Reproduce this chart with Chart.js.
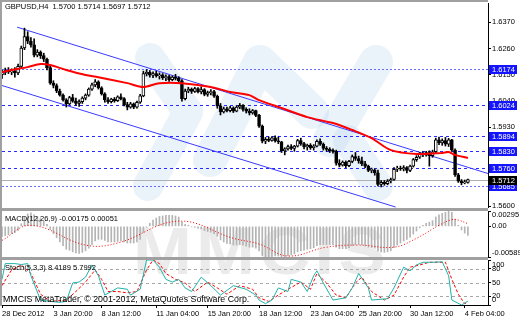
<!DOCTYPE html>
<html>
<head>
<meta charset="utf-8">
<script src="https://cdn.jsdelivr.net/npm/chart.js@4.4.1/dist/chart.umd.min.js"></script>
<style>
html,body{margin:0;padding:0;background:#fff;}
#wrap{position:relative;width:520px;height:320px;overflow:hidden;background:#fff;}
#wrap canvas{position:absolute;left:0;}
.t{position:absolute;font-family:"Liberation Sans",Arial,sans-serif;font-size:7.5px;line-height:8px;color:#000;white-space:pre;}
#wm{position:absolute;left:133px;top:218px;font-family:"Liberation Sans",Arial,sans-serif;font-weight:bold;font-size:66px;line-height:66px;color:#ebebeb;letter-spacing:4px;transform-origin:0 0;transform:scaleX(1.07);}
.sep{position:absolute;left:0;width:488px;height:3px;background:#a0a0a0;}
</style>
</head>
<body>
<div id="wrap">
  <div id="wm">MMCIS</div>
  <canvas id="cMain" width="520" height="208" style="top:0px"></canvas>
  <canvas id="cMacd" width="520" height="50" style="top:208px"></canvas>
  <canvas id="cSto" width="520" height="63" style="top:257px"></canvas>
  <div class="sep" style="top:208px"></div>
  <div class="sep" style="top:257px"></div>
  <div style="position:absolute;left:0;top:0;width:2px;height:306px;background:#a0a0a0"></div>
  <div style="position:absolute;left:0;top:0;width:488px;height:2px;background:#a0a0a0"></div>
  <div class="t" style="left:5px;top:3px">GBPUSD,H4  1.5700 1.5714 1.5697 1.5712</div>
  <div class="t" style="left:5px;top:215px">MACD(12,26,9) -0.00175 0.00051</div>
  <div class="t" style="left:5px;top:264px">Stoch(5,3,3) 8.4189 5.7992</div>
  <div class="t" style="left:3px;top:294px;font-size:8.8px;line-height:10px">MMCIS MetaTrader, © 2001-2012, MetaQuotes Software Corp.</div>
</div>
<script>
// ---------- DATA ----------
const candleOpen = [
1.6150,1.6160,1.6168,1.6162,1.6165,1.6158,1.6185,1.6262,1.6310,1.6290,
1.6275,1.6232,1.6245,1.6230,1.6215,1.6180,1.6115,1.6105,1.6082,1.6065,
1.6045,1.6028,1.6055,1.6040,1.6030,1.6038,1.6052,1.6065,1.6090,1.6108,
1.6120,1.6095,1.6070,1.6045,1.6038,1.6048,1.6042,1.6058,1.6050,1.6025,
1.6015,1.6028,1.6015,1.6035,1.6062,1.6155,1.6160,1.6148,1.6155,1.6145,
1.6150,1.6138,1.6142,1.6130,1.6140,1.6135,1.6125,1.6050,1.6082,1.6090,
1.6080,1.6092,1.6078,1.6088,1.6068,1.6075,1.6080,1.6060,1.6020,1.5995,
1.6008,1.6000,1.6012,1.5998,1.6015,1.6022,1.6005,1.5998,1.5990,1.6000,
1.5980,1.5935,1.5872,1.5880,1.5876,1.5886,1.5874,1.5870,1.5832,1.5840,
1.5850,1.5842,1.5852,1.5875,1.5862,1.5848,1.5855,1.5845,1.5852,1.5872,
1.5860,1.5842,1.5838,1.5832,1.5830,1.5780,1.5772,1.5785,1.5770,1.5788,
1.5808,1.5800,1.5790,1.5778,1.5768,1.5750,1.5752,1.5740,1.5692,1.5700,
1.5695,1.5706,1.5712,1.5755,1.5760,1.5756,1.5762,1.5750,1.5768,1.5795,
1.5805,1.5818,1.5815,1.5825,1.5812,1.5828,1.5878,1.5865,1.5875,1.5860,
1.5878,1.5835,1.5732,1.5705,1.5698,1.5700];
const candleHigh = [
1.6170,1.6178,1.6180,1.6175,1.6180,1.6195,1.6270,1.6345,1.6330,1.6305,
1.6300,1.6255,1.6250,1.6240,1.6220,1.6190,1.6125,1.6112,1.6090,1.6070,
1.6050,1.6060,1.6068,1.6052,1.6045,1.6058,1.6070,1.6095,1.6115,1.6130,
1.6125,1.6100,1.6075,1.6055,1.6052,1.6055,1.6062,1.6070,1.6055,1.6035,
1.6035,1.6032,1.6040,1.6068,1.6165,1.6172,1.6168,1.6162,1.6165,1.6158,
1.6155,1.6150,1.6148,1.6145,1.6152,1.6142,1.6130,1.6090,1.6098,1.6095,
1.6098,1.6096,1.6100,1.6092,1.6082,1.6088,1.6085,1.6065,1.6030,1.6015,
1.6015,1.6018,1.6016,1.6020,1.6030,1.6025,1.6012,1.6008,1.6005,1.6002,
1.5985,1.5940,1.5888,1.5890,1.5892,1.5895,1.5890,1.5872,1.5845,1.5856,
1.5858,1.5855,1.5880,1.5885,1.5868,1.5860,1.5862,1.5858,1.5878,1.5882,
1.5865,1.5850,1.5845,1.5840,1.5835,1.5795,1.5790,1.5790,1.5792,1.5815,
1.5825,1.5810,1.5806,1.5788,1.5772,1.5760,1.5756,1.5752,1.5708,1.5708,
1.5712,1.5718,1.5762,1.5768,1.5768,1.5770,1.5766,1.5772,1.5800,1.5812,
1.5825,1.5828,1.5830,1.5832,1.5835,1.5885,1.5890,1.5882,1.5888,1.5884,
1.5880,1.5840,1.5738,1.5712,1.5710,1.5714];
const candleLow = [
1.6135,1.6150,1.6155,1.6150,1.6140,1.6150,1.6180,1.6255,1.6280,1.6265,
1.6225,1.6225,1.6218,1.6205,1.6170,1.6110,1.6095,1.6075,1.6060,1.6040,
1.6015,1.6025,1.6035,1.6022,1.6018,1.6030,1.6045,1.6060,1.6085,1.6100,
1.6090,1.6065,1.6035,1.6030,1.6032,1.6035,1.6038,1.6045,1.6020,1.6003,
1.6010,1.6008,1.6010,1.6030,1.6058,1.6145,1.6140,1.6138,1.6140,1.6132,
1.6130,1.6125,1.6122,1.6125,1.6128,1.6118,1.6040,1.6045,1.6075,1.6072,
1.6076,1.6074,1.6070,1.6062,1.6060,1.6066,1.6055,1.6010,1.5982,1.5990,
1.5995,1.5995,1.5992,1.5995,1.6008,1.5998,1.5990,1.5982,1.5985,1.5975,
1.5930,1.5865,1.5862,1.5870,1.5872,1.5868,1.5862,1.5825,1.5815,1.5835,
1.5836,1.5830,1.5848,1.5855,1.5840,1.5835,1.5838,1.5835,1.5848,1.5855,
1.5835,1.5830,1.5825,1.5822,1.5772,1.5765,1.5768,1.5762,1.5766,1.5782,
1.5792,1.5780,1.5770,1.5762,1.5745,1.5740,1.5730,1.5685,1.5681,1.5688,
1.5690,1.5698,1.5708,1.5745,1.5750,1.5748,1.5740,1.5745,1.5764,1.5788,
1.5800,1.5808,1.5810,1.5768,1.5805,1.5822,1.5858,1.5855,1.5852,1.5850,
1.5830,1.5725,1.5700,1.5690,1.5694,1.5697];
const candleClose = [
1.6160,1.6168,1.6162,1.6165,1.6158,1.6185,1.6262,1.6310,1.6290,1.6275,
1.6232,1.6245,1.6230,1.6215,1.6180,1.6115,1.6105,1.6082,1.6065,1.6045,
1.6028,1.6055,1.6040,1.6030,1.6038,1.6052,1.6065,1.6090,1.6108,1.6120,
1.6095,1.6070,1.6045,1.6038,1.6048,1.6042,1.6058,1.6050,1.6025,1.6015,
1.6028,1.6015,1.6035,1.6062,1.6155,1.6160,1.6148,1.6155,1.6145,1.6150,
1.6138,1.6142,1.6130,1.6140,1.6135,1.6125,1.6050,1.6082,1.6090,1.6080,
1.6092,1.6078,1.6088,1.6068,1.6075,1.6080,1.6060,1.6020,1.5995,1.6008,
1.6000,1.6012,1.5998,1.6015,1.6022,1.6005,1.5998,1.5990,1.6000,1.5980,
1.5935,1.5872,1.5880,1.5876,1.5886,1.5874,1.5870,1.5832,1.5840,1.5850,
1.5842,1.5852,1.5875,1.5862,1.5848,1.5855,1.5845,1.5852,1.5872,1.5860,
1.5842,1.5838,1.5832,1.5830,1.5780,1.5772,1.5785,1.5770,1.5788,1.5808,
1.5800,1.5790,1.5778,1.5768,1.5750,1.5752,1.5740,1.5692,1.5700,1.5695,
1.5706,1.5712,1.5755,1.5760,1.5756,1.5762,1.5750,1.5768,1.5795,1.5805,
1.5818,1.5815,1.5825,1.5812,1.5828,1.5878,1.5865,1.5875,1.5860,1.5878,
1.5835,1.5732,1.5705,1.5698,1.5700,1.5712];

const maBars   = [0,3,8,12,15,20,26,30,39,44,49,56,65,71,77,80,87,95,103,109,115,121,129,137,139,141,145];
const maValues = [1.6161,1.6170,1.6182,1.6195,1.6191,1.6170,1.6149,1.6140,1.6115,1.6099,1.6115,1.6115,1.6099,1.6078,1.6065,1.6044,1.6011,1.5973,1.5948,1.5919,1.5885,1.5835,1.5819,1.5823,1.5827,1.5815,1.5802];

const channelUpperBars = [4.7, 151.25];
const channelUpperVals = [1.6349, 1.5737];
const channelLowerBars = [0, 122.5];
const channelLowerVals = [1.6105, 1.5597];

const levelValues = [1.6174, 1.6024, 1.5894, 1.5830, 1.5760, 1.5685];
const levelFaint  = [true, false, false, false, false, true];
const lastPrice = 1.5712;
const priceTicks = [1.6370, 1.6260, 1.6150, 1.6040, 1.5930, 1.5820, 1.5710, 1.5600];

const macdMain = [
-0.0020,-0.0018,-0.0016,-0.0014,-0.0012,-0.0008,0.0005,0.0018,0.0024,0.0026,
0.0022,0.0019,0.0015,0.0010,0.0004,-0.0006,-0.0014,-0.0022,-0.0030,-0.0037,
-0.0044,-0.0046,-0.0049,-0.0051,-0.0052,-0.0050,-0.0047,-0.0042,-0.0035,-0.0028,
-0.0025,-0.0025,-0.0027,-0.0030,-0.0030,-0.0030,-0.0029,-0.0028,-0.0030,-0.0032,
-0.0032,-0.0032,-0.0030,-0.0025,-0.0012,-0.0002,0.0006,0.0012,0.0016,0.0019,
0.0020,0.0021,0.0021,0.0021,0.0020,0.0018,0.0008,0.0004,0.0002,-0.0001,
-0.0002,-0.0004,-0.0005,-0.0008,-0.0010,-0.0011,-0.0014,-0.0019,-0.0026,-0.0030,
-0.0033,-0.0034,-0.0036,-0.0036,-0.0035,-0.0036,-0.0038,-0.0040,-0.0040,-0.0042,
-0.0047,-0.0056,-0.0059,-0.0059,-0.0058,-0.0057,-0.0057,-0.0059,-0.0059,-0.0057,
-0.0055,-0.0053,-0.0049,-0.0047,-0.0046,-0.0044,-0.0043,-0.0041,-0.0037,-0.0035,
-0.0035,-0.0035,-0.0035,-0.0035,-0.0040,-0.0043,-0.0043,-0.0043,-0.0041,-0.0037,
-0.0035,-0.0035,-0.0036,-0.0038,-0.0040,-0.0041,-0.0042,-0.0047,-0.0049,-0.0050,
-0.0049,-0.0047,-0.0041,-0.0036,-0.0032,-0.0028,-0.0025,-0.0021,-0.0015,-0.0009,
-0.0003,0.0002,0.0006,0.0008,0.0011,0.0018,0.0022,0.0025,0.0027,0.0029,
0.0027,0.0014,0.0002,-0.0007,-0.0013,-0.00175];
const macdSignalBars = [0,9,26,36,55,72,80,89,101,111,122,129,136,140,142,145];
const macdSignalVals = [-0.0027,0.0002,-0.0036,-0.0032,0.0010,-0.0023,-0.0034,-0.0057,-0.0040,-0.0036,-0.0040,-0.0023,0.0002,0.0013,0.0012,0.00051];
const macdTicks = [0.00295, 0, -0.00589];
const macdTickLabels = ['0.00295', '0.00', '-0.00589'];

const stochKBars = [0,1,4,6,8,9,12,15,18,20,22,24,26,28,30,32,34,36,39,40,43,45,47,49,51,53,55,57,59,61,62,65,68,72,76,79,80,82,84,86,89,90,93,95,97,98,100,103,107,109,111,114,115,120,122,125,127,129,131,134,137,139,140,143,145];
const stochKVals = [57,92,92,90,92,65,11,8,6,8,49,51,62,89,65,22,30,38,35,22,35,100,100,84,57,51,57,38,30,51,62,43,22,43,35,22,11,3,11,38,30,57,51,30,65,76,49,11,16,38,70,38,11,14,38,84,76,89,95,95,96,65,11,0,8.4189];
const stochDBars = [0,3,6,9,12,15,20,23,26,29,31,33,36,39,42,45,47,49,51,54,57,60,64,67,70,74,78,80,83,86,89,93,96,98,101,104,107,110,112,115,119,122,125,127,130,133,138,140,142,144,145];
const stochDVals = [43,78,89,70,24,8,11,30,51,78,57,30,30,27,30,78,100,92,70,57,49,30,51,38,24,43,35,16,8,22,35,51,35,70,49,22,16,49,62,30,11,22,62,84,89,95,95,57,24,3,5.7992];
const stochTicks = [100, 80, 50, 20, 0];
const stochLevels = [80, 50, 20];

const xTickBars = [0,16,31,48,64,80,96,111,127,144];
const xTickLabels = ['28 Dec 2012','3 Jan 20:00','8 Jan 12:00','11 Jan 04:00','15 Jan 20:00','18 Jan 12:00','23 Jan 04:00','25 Jan 20:00','30 Jan 12:00','4 Feb 04:00'];

// ---------- SETUP ----------
const FONT = '"Liberation Sans", Arial, sans-serif';
Chart.defaults.font.family = FONT;
Chart.defaults.font.size = 7.5;
Chart.defaults.color = '#000';
const X_MAX = 151.25;
const AXIS_W = 32;
const barIdx = candleClose.map((_, i) => i);
const pairs = (xs, ys) => xs.map((x, i) => ({x: x, y: ys[i]}));

function xScale(display) {
  return {
    type: 'linear', min: 0, max: X_MAX, offset: false, display: display,
    grid: {display: false, offset: false}
  };
}
function yScale(min, max, ticks) {
  return {
    type: 'linear', position: 'right', min: min, max: max,
    afterBuildTicks: s => { s.ticks = ticks.map(v => ({value: v})); },
    afterFit: s => { s.width = AXIS_W; },
    ticks: {display: false},
    grid: {drawOnChartArea: false, drawTicks: true, tickLength: 3, color: '#000'},
    border: {display: true, color: '#000'}
  };
}
function yLabels(fmt, inset) {
  return function(chart) {
    const s = chart.scales.y, a = chart.chartArea, ctx = chart.ctx;
    ctx.save();
    ctx.font = '7.5px ' + FONT;
    ctx.fillStyle = '#000'; ctx.textBaseline = 'middle'; ctx.textAlign = 'left';
    s.ticks.forEach((t, k) => {
      let y = s.getPixelForValue(t.value);
      y = Math.min(Math.max(y, a.top + inset), a.bottom - inset);
      ctx.fillText(fmt(t.value, k), a.right + 4, y);
    });
    ctx.restore();
  };
}
const common = {
  responsive: false, animation: false, devicePixelRatio: 1,
  plugins: {legend: {display: false}, tooltip: {enabled: false}}
};

// ---------- MAIN ----------
const drawMainLabels = yLabels(v => v.toFixed(4), 0);
const mainDeco = {
  id: 'mainDeco',
  beforeDatasetsDraw(chart) {
    const {ctx, chartArea: a} = chart, y = chart.scales.y;
    ctx.save();
    // faint logo bands (background decoration)
    ctx.beginPath(); ctx.rect(a.left, a.top, a.right - a.left, a.bottom - a.top); ctx.clip();
    ctx.strokeStyle = 'rgba(185,212,238,0.3)';
    ctx.lineCap = 'round'; ctx.lineJoin = 'round'; ctx.lineWidth = 30;
    const band = pts => { ctx.beginPath(); ctx.moveTo(pts[0][0], pts[0][1]); pts.slice(1).forEach(p => ctx.lineTo(p[0], p[1])); ctx.stroke(); };
    band([[150,58],[188,112],[148,186]]);
    ctx.lineWidth = 34;
    band([[210,160],[260,62],[312,112]]);
    band([[376,62],[330,140]]);
    ctx.lineWidth = 30;
    band([[348,140],[378,186]]);
    ctx.restore();

    ctx.save();
    ctx.lineWidth = 1;
    levelValues.forEach((v, k) => {
      const py = Math.round(y.getPixelForValue(v)) + 0.5;
      ctx.strokeStyle = levelFaint[k] ? '#6a6aff' : '#2828ff';
      ctx.setLineDash(levelFaint[k] ? [2, 2] : [3, 3]);
      ctx.beginPath(); ctx.moveTo(a.left, py); ctx.lineTo(a.right, py); ctx.stroke();
    });
    ctx.setLineDash([]);
    const pc = Math.round(y.getPixelForValue(lastPrice)) + 0.5;
    ctx.strokeStyle = '#b0b0b0';
    ctx.beginPath(); ctx.moveTo(a.left, pc); ctx.lineTo(a.right, pc); ctx.stroke();
    ctx.restore();
  },
  afterDraw(chart) {
    drawMainLabels(chart);
    const {ctx, chartArea: a} = chart, y = chart.scales.y;
    ctx.save();
    ctx.font = '7.5px ' + FONT;
    ctx.textBaseline = 'middle'; ctx.textAlign = 'left';
    const box = (v, col) => {
      const py = Math.round(y.getPixelForValue(v));
      ctx.fillStyle = col;
      ctx.fillRect(a.right + 1, py - 4, 28, 9);
      ctx.fillStyle = '#fff';
      ctx.fillText(v.toFixed(4), a.right + 4, py + 0.5);
    };
    levelValues.forEach(v => box(v, '#1414ff'));
    box(lastPrice, '#000');
    ctx.restore();
  }
};
new Chart(document.getElementById('cMain'), {
  type: 'bar',
  data: {
    datasets: [
      {type: 'line', data: pairs(channelUpperBars, channelUpperVals), borderColor: '#3a3aff', borderWidth: 1, pointRadius: 0, order: 5},
      {type: 'line', data: pairs(channelLowerBars, channelLowerVals), borderColor: '#3a3aff', borderWidth: 1, pointRadius: 0, order: 5},
      {type: 'bar', data: barIdx.map(i => ({x: i, y: [candleLow[i], candleHigh[i]]})), backgroundColor: '#000', barThickness: 1, grouped: false, order: 3},
      {type: 'bar', data: barIdx.map(i => ({x: i, y: [candleOpen[i], candleClose[i]]})),
        backgroundColor: barIdx.map(i => candleClose[i] >= candleOpen[i] ? '#fff' : '#000'),
        borderColor: '#000', borderWidth: 1, borderSkipped: false, barThickness: 3, minBarLength: 1, grouped: false, order: 2},
      {type: 'line', data: pairs(maBars, maValues), borderColor: '#ff0000', borderWidth: 2, pointRadius: 0, tension: 0.3, order: 1}
    ]
  },
  options: Object.assign({}, common, {
    layout: {padding: {top: 3, left: 2, right: 0, bottom: 0}},
    scales: {x: xScale(false), y: yScale(1.5593, 1.6450, priceTicks)}
  }),
  plugins: [mainDeco]
});

// ---------- MACD ----------
const drawMacdLabels = yLabels((v, k) => macdTickLabels[k], 4);
new Chart(document.getElementById('cMacd'), {
  type: 'bar',
  data: {
    datasets: [
      {type: 'bar', data: barIdx.map(i => ({x: i, y: macdMain[i]})), backgroundColor: '#b4b4b4', barThickness: 1, grouped: false, order: 2},
      {type: 'line', data: pairs(macdSignalBars, macdSignalVals), borderColor: '#ff0000', borderWidth: 1, borderDash: [1, 2], pointRadius: 0, tension: 0.4, order: 1}
    ]
  },
  options: Object.assign({}, common, {
    layout: {padding: {top: 3, left: 2, right: 0, bottom: 1}},
    scales: {x: xScale(false), y: yScale(-0.00589, 0.00295, macdTicks)}
  }),
  plugins: [{id: 'macdLbl', afterDraw: drawMacdLabels}]
});

// ---------- STOCH ----------
const drawStoLabels = yLabels(v => String(v), 5);
const stoDeco = {
  id: 'stoDeco',
  beforeDatasetsDraw(chart) {
    const {ctx, chartArea: a} = chart, y = chart.scales.y;
    ctx.save();
    ctx.strokeStyle = '#a8a8a8'; ctx.lineWidth = 1; ctx.setLineDash([3, 3]);
    stochLevels.forEach(v => {
      const py = Math.round(y.getPixelForValue(v)) + 0.5;
      ctx.beginPath(); ctx.moveTo(a.left, py); ctx.lineTo(a.right, py); ctx.stroke();
    });
    ctx.restore();
  },
  afterDraw: drawStoLabels
};
const stoX = xScale(true);
stoX.afterBuildTicks = s => { s.ticks = xTickBars.map(v => ({value: v})); };
stoX.afterFit = s => { s.height = 15; };
stoX.ticks = {autoSkip: false, maxRotation: 0, align: 'start', padding: 1, callback: (v, k) => xTickLabels[k]};
stoX.grid = {drawOnChartArea: false, drawTicks: true, tickLength: 3, color: '#000', offset: false};
stoX.border = {display: true, color: '#000'};
new Chart(document.getElementById('cSto'), {
  type: 'line',
  data: {
    datasets: [
      {data: pairs(stochDBars, stochDVals), borderColor: '#ff0000', borderWidth: 1, borderDash: [3, 2], pointRadius: 0, order: 2},
      {data: pairs(stochKBars, stochKVals), borderColor: '#20b2aa', borderWidth: 1, pointRadius: 0, order: 1}
    ]
  },
  options: Object.assign({}, common, {
    layout: {padding: {top: 3, left: 2, right: 0, bottom: 0}},
    scales: {x: stoX, y: yScale(0, 100, stochTicks)}
  }),
  plugins: [stoDeco]
});
</script>
</body>
</html>
